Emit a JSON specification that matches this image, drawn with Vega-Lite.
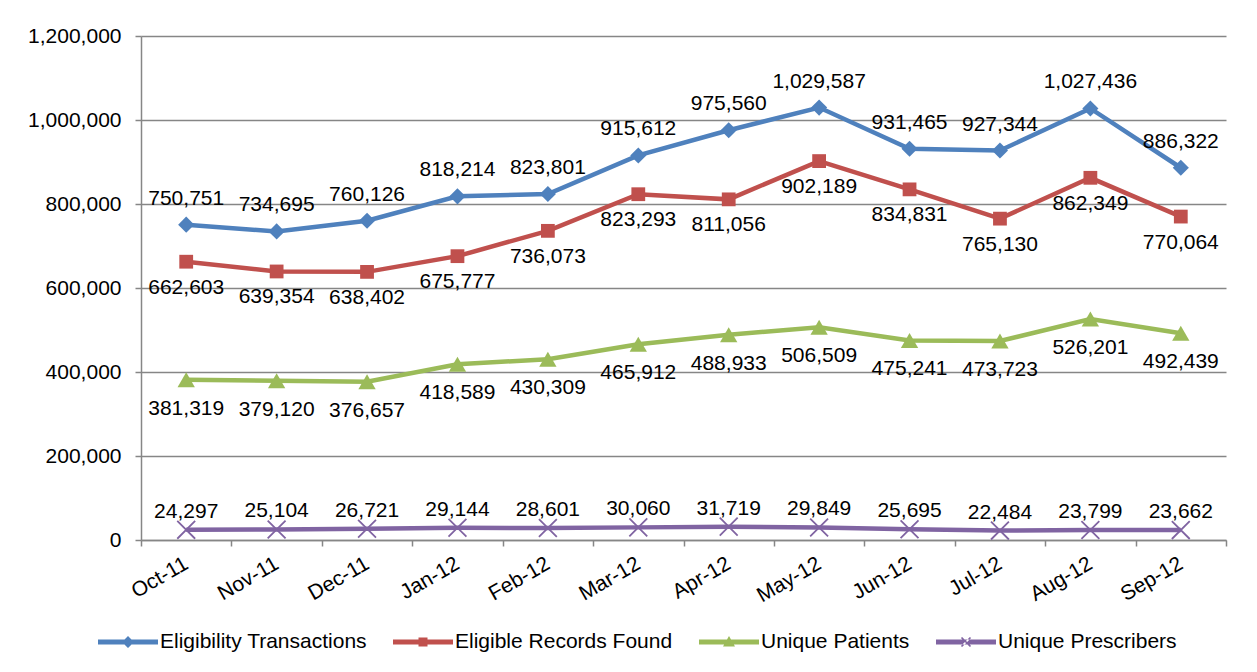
{
  "$schema": "https://vega.github.io/schema/vega-lite/v6.json",
  "width": 1085,
  "height": 504,
  "autosize": {"type": "none"},
  "padding": {"left": 141, "top": 36, "right": 31, "bottom": 132},
  "background": "white",
  "config": {
    "font": "Liberation Sans",
    "view": {"stroke": null},
    "axis": {"labelFont": "Liberation Sans", "labelColor": "black", "labelFontSize": 21, "domainColor": "#868686", "tickColor": "#868686", "gridColor": "#868686", "domainWidth": 1.5, "tickWidth": 1.5, "gridWidth": 1.5}
  },
  "data": {
    "values": [
      {"month": "Oct-11", "series": "Eligibility Transactions", "value": 750751},
      {"month": "Nov-11", "series": "Eligibility Transactions", "value": 734695},
      {"month": "Dec-11", "series": "Eligibility Transactions", "value": 760126},
      {"month": "Jan-12", "series": "Eligibility Transactions", "value": 818214},
      {"month": "Feb-12", "series": "Eligibility Transactions", "value": 823801},
      {"month": "Mar-12", "series": "Eligibility Transactions", "value": 915612},
      {"month": "Apr-12", "series": "Eligibility Transactions", "value": 975560},
      {"month": "May-12", "series": "Eligibility Transactions", "value": 1029587},
      {"month": "Jun-12", "series": "Eligibility Transactions", "value": 931465},
      {"month": "Jul-12", "series": "Eligibility Transactions", "value": 927344},
      {"month": "Aug-12", "series": "Eligibility Transactions", "value": 1027436},
      {"month": "Sep-12", "series": "Eligibility Transactions", "value": 886322},
      {"month": "Oct-11", "series": "Eligible Records Found", "value": 662603},
      {"month": "Nov-11", "series": "Eligible Records Found", "value": 639354},
      {"month": "Dec-11", "series": "Eligible Records Found", "value": 638402},
      {"month": "Jan-12", "series": "Eligible Records Found", "value": 675777},
      {"month": "Feb-12", "series": "Eligible Records Found", "value": 736073},
      {"month": "Mar-12", "series": "Eligible Records Found", "value": 823293},
      {"month": "Apr-12", "series": "Eligible Records Found", "value": 811056},
      {"month": "May-12", "series": "Eligible Records Found", "value": 902189},
      {"month": "Jun-12", "series": "Eligible Records Found", "value": 834831},
      {"month": "Jul-12", "series": "Eligible Records Found", "value": 765130},
      {"month": "Aug-12", "series": "Eligible Records Found", "value": 862349},
      {"month": "Sep-12", "series": "Eligible Records Found", "value": 770064},
      {"month": "Oct-11", "series": "Unique Patients", "value": 381319},
      {"month": "Nov-11", "series": "Unique Patients", "value": 379120},
      {"month": "Dec-11", "series": "Unique Patients", "value": 376657},
      {"month": "Jan-12", "series": "Unique Patients", "value": 418589},
      {"month": "Feb-12", "series": "Unique Patients", "value": 430309},
      {"month": "Mar-12", "series": "Unique Patients", "value": 465912},
      {"month": "Apr-12", "series": "Unique Patients", "value": 488933},
      {"month": "May-12", "series": "Unique Patients", "value": 506509},
      {"month": "Jun-12", "series": "Unique Patients", "value": 475241},
      {"month": "Jul-12", "series": "Unique Patients", "value": 473723},
      {"month": "Aug-12", "series": "Unique Patients", "value": 526201},
      {"month": "Sep-12", "series": "Unique Patients", "value": 492439},
      {"month": "Oct-11", "series": "Unique Prescribers", "value": 24297},
      {"month": "Nov-11", "series": "Unique Prescribers", "value": 25104},
      {"month": "Dec-11", "series": "Unique Prescribers", "value": 26721},
      {"month": "Jan-12", "series": "Unique Prescribers", "value": 29144},
      {"month": "Feb-12", "series": "Unique Prescribers", "value": 28601},
      {"month": "Mar-12", "series": "Unique Prescribers", "value": 30060},
      {"month": "Apr-12", "series": "Unique Prescribers", "value": 31719},
      {"month": "May-12", "series": "Unique Prescribers", "value": 29849},
      {"month": "Jun-12", "series": "Unique Prescribers", "value": 25695},
      {"month": "Jul-12", "series": "Unique Prescribers", "value": 22484},
      {"month": "Aug-12", "series": "Unique Prescribers", "value": 23799},
      {"month": "Sep-12", "series": "Unique Prescribers", "value": 23662}
    ]
  },
  "encoding": {
    "x": {
      "field": "month", "type": "ordinal",
      "sort": ["Oct-11","Nov-11","Dec-11","Jan-12","Feb-12","Mar-12","Apr-12","May-12","Jun-12","Jul-12","Aug-12","Sep-12"],
      "scale": {"type": "band", "paddingInner": 0, "paddingOuter": 0},
      "axis": {"title": null, "grid": false, "tickBand": "extent", "tickSize": 6, "labelAngle": -30, "labelAlign": "right", "labelBaseline": "middle", "labelPadding": 16}
    },
    "y": {
      "field": "value", "type": "quantitative",
      "scale": {"domain": [0, 1200000], "nice": false},
      "axis": {"title": null, "values": [0,200000,400000,600000,800000,1000000,1200000], "format": ",d", "tickSize": 6, "labelPadding": 14}
    }
  },
  "layer": [
    {
      "mark": {"type": "line", "strokeWidth": 4.5},
      "encoding": {
        "color": {
          "field": "series", "type": "nominal",
          "scale": {"domain": ["Eligibility Transactions","Eligible Records Found","Unique Patients","Unique Prescribers"], "range": ["#4F81BD","#C0504D","#9BBB59","#8064A2"]},
          "legend": {"title": null, "orient": "none", "direction": "horizontal", "legendX": -43, "legendY": 576, "padding": 0, "symbolSize": 3600, "symbolOpacity": 1, "symbolStrokeWidth": 0, "labelFontSize": 21, "labelFont": "Liberation Sans", "labelColor": "black", "labelLimit": 0, "columnPadding": 26, "labelOffset": 2, "columns": 4}
        }
      }
    },
    {
      "mark": {"type": "point", "filled": true, "opacity": 0, "size": 1},
      "encoding": {
        "color": {"field": "series", "type": "nominal", "legend": null},
        "shape": {
          "field": "series", "type": "nominal", "legend": null,
          "scale": {"domain": ["Eligibility Transactions","Eligible Records Found","Unique Patients","Unique Prescribers"], "range": [
            "M-1,-0.08L1,-0.08L1,0.08L-1,0.08Z M0,-0.2L0.2,0L0,0.2L-0.2,0Z",
            "M-1,-0.08L1,-0.08L1,0.08L-1,0.08Z M-0.15,-0.15L0.15,-0.15L0.15,0.15L-0.15,0.15Z",
            "M-1,-0.08L1,-0.08L1,0.08L-1,0.08Z M0,-0.2L0.2,0.15L-0.2,0.15Z",
            "M-1,-0.08L1,-0.08L1,0.08L-1,0.08Z M-0.17,-0.13L-0.13,-0.17L0.17,0.13L0.13,0.17Z M0.17,-0.13L0.13,-0.17L-0.17,0.13L-0.13,0.17Z"
          ]}
        }
      }
    },
    {
      "transform": [{"filter": "datum.series === 'Eligibility Transactions'"}],
      "mark": {"type": "point", "filled": true, "opacity": 1, "color": "#4F81BD", "shape": "diamond", "size": 260}
    },
    {
      "transform": [{"filter": "datum.series === 'Eligible Records Found'"}],
      "mark": {"type": "point", "filled": true, "opacity": 1, "color": "#C0504D", "shape": "square", "size": 190}
    },
    {
      "transform": [{"filter": "datum.series === 'Unique Patients'"}],
      "mark": {"type": "point", "filled": true, "opacity": 1, "color": "#9BBB59", "shape": "triangle-up", "size": 300}
    },
    {
      "transform": [{"filter": "datum.series === 'Unique Prescribers'"}],
      "mark": {"type": "point", "filled": false, "opacity": 1, "strokeWidth": 1.8, "color": "#8064A2", "shape": "M-1,-1L1,1M1,-1L-1,1", "size": 320}
    },
    {
      "transform": [{"filter": "datum.series === 'Eligibility Transactions'"}],
      "mark": {"type": "text", "dy": -26, "fontSize": 21, "color": "black"},
      "encoding": {"text": {"field": "value", "type": "quantitative", "format": ",d"}}
    },
    {
      "transform": [{"filter": "datum.series === 'Eligible Records Found'"}],
      "mark": {"type": "text", "dy": 26, "fontSize": 21, "color": "black"},
      "encoding": {"text": {"field": "value", "type": "quantitative", "format": ",d"}}
    },
    {
      "transform": [{"filter": "datum.series === 'Unique Patients'"}],
      "mark": {"type": "text", "dy": 29, "fontSize": 21, "color": "black"},
      "encoding": {"text": {"field": "value", "type": "quantitative", "format": ",d"}}
    },
    {
      "transform": [{"filter": "datum.series === 'Unique Prescribers'"}],
      "mark": {"type": "text", "dy": -18, "fontSize": 21, "color": "black"},
      "encoding": {"text": {"field": "value", "type": "quantitative", "format": ",d"}}
    }
  ]
}
